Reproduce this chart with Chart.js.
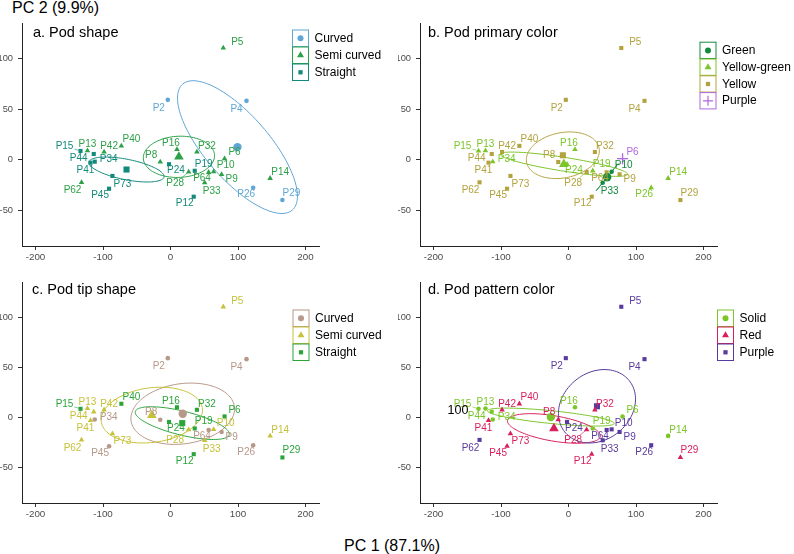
<!DOCTYPE html>
<html><head><meta charset="utf-8">
<script src="https://cdn.jsdelivr.net/npm/chart.js@4.4.1/dist/chart.umd.min.js"></script>
<style>
body{margin:0;background:#fff;width:794px;height:554px;overflow:hidden;position:relative;font-family:"Liberation Sans",Arial,sans-serif;}
canvas{position:absolute;}
.ax{position:absolute;font-size:16px;color:#000;white-space:nowrap;line-height:16px;}
</style></head><body>
<div class="ax" style="left:12px;top:0px">PC 2 (9.9%)</div>
<div class="ax" style="left:344px;top:538px">PC 1 (87.1%)</div>
<canvas id="ca"></canvas><canvas id="cb"></canvas><canvas id="cc"></canvas><canvas id="cd"></canvas>
<script>
// ---------------- DATA ----------------
const genotypes = ['P2','P4','P5','P6','P8','P9','P10','P12','P13','P14','P15','P16','P19','P24','P26','P28','P29','P32','P33','P34','P40','P41','P42','P44','P45','P62','P64','P73'];
const pc1 = [-4.0,112.6,78.2,80.1,-15.2,75.7,63.9,34.4,-123.0,147.6,-133.3,9.6,35.9,-2.2,122.5,26.9,165.8,39.1,50.6,-112.2,-72.8,-118.5,-98.4,-113.7,-91.0,-131.8,56.5,-86.0];
const pc2 = [59.1,58.1,110.3,1.0,-2.3,-14.5,-11.9,-36.6,8.9,-18.4,8.6,10.1,-11.0,-4.5,-27.7,-12.2,-39.9,7.6,-22.8,-2.0,13.6,-3.0,7.6,5.6,-28.7,-22.4,-12.5,-16.1];
const podShape = ['Curved','Curved','Semi curved','Semi curved','Semi curved','Semi curved','Semi curved','Straight','Semi curved','Semi curved','Straight','Semi curved','Straight','Straight','Curved','Semi curved','Curved','Semi curved','Semi curved','Straight','Semi curved','Straight','Semi curved','Straight','Straight','Semi curved','Semi curved','Straight'];
const podPrimaryColor = ['Yellow','Yellow','Yellow','Purple','Yellow','Yellow','Green','Yellow','Yellow-green','Yellow-green','Yellow-green','Yellow-green','Yellow-green','Yellow-green','Yellow-green','Yellow','Yellow','Yellow','Green','Yellow-green','Yellow','Yellow','Yellow','Yellow','Yellow','Yellow','Yellow','Yellow'];
const podTipShape = ['Curved','Curved','Semi curved','Straight','Curved','Curved','Semi curved','Straight','Semi curved','Semi curved','Straight','Straight','Straight','Straight','Curved','Semi curved','Straight','Straight','Semi curved','Curved','Straight','Semi curved','Semi curved','Semi curved','Curved','Semi curved','Curved','Semi curved'];
const podPatternColor = ['Purple','Purple','Purple','Solid','Red','Purple','Purple','Red','Solid','Solid','Solid','Solid','Solid','Purple','Purple','Red','Red','Red','Purple','Solid','Red','Red','Red','Solid','Red','Purple','Purple','Red'];
const shapeLevels = ['Curved','Semi curved','Straight'];
const primaryLevels = ['Green','Yellow-green','Yellow','Purple'];
const tipLevels = ['Curved','Semi curved','Straight'];
const patternLevels = ['Solid','Red','Purple'];
const xTicks = [-200,-100,0,100,200];
const yTicks = [-50,0,50,100];

// ---------------- LAYOUT / STYLE ----------------
const labelOffsets = {P2:[-9,8],P4:[-10,8],P5:[14,-6],P6:[10,-6],P8:[-9,-7],P9:[10,5],P10:[12,-6],P12:[-9,7],P13:[0,-6],P14:[10,-6],P15:[-16,-5],P16:[-6,-6],P19:[9,-7],P24:[7,6.5],P26:[-7,7],P28:[-13.5,11],P29:[9,-7],P32:[10,-6],P33:[7,9],P34:[14,-2],P40:[10,-7],P41:[-5,8],P42:[5,-6],P44:[-15,4],P45:[-9,7],P62:[-9,8],P64:[-6.6,6],P73:[10,8]};
const segmentLabels = ['P15','P28','P64'];
const FONT = '"Liberation Sans", Arial, sans-serif';

const panels = [
  {id:'ca', title:'a. Pod shape', groups:podShape, levels:shapeLevels,
   colors:['#5FA6D6','#2DA048','#12897A'], styles:['circle','triangle','rect'],
   canvas:{l:0,t:0,w:397,h:268}, area:{l:22,t:23,r:319,b:246},
   titlePos:[33,33], legend:{x:292,y:29.5,step:17}},
  {id:'cb', title:'b. Pod primary color', groups:podPrimaryColor, levels:primaryLevels,
   colors:['#138A3C','#7CC52A','#B3A33F','#B068DD'], styles:['circle','triangle','rect','cross'],
   canvas:{l:397,t:0,w:397,h:268}, area:{l:420,t:23,r:717,b:246},
   titlePos:[428,33], legend:{x:699.5,y:41.7,step:16.8}},
  {id:'cc', title:'c. Pod tip shape', groups:podTipShape, levels:tipLevels,
   colors:['#B89888','#C6C23A','#2CA43C'], styles:['circle','triangle','rect'],
   canvas:{l:0,t:268,w:397,h:260}, area:{l:22,t:282,r:319,b:503},
   titlePos:[32,289.5], legend:{x:292.5,y:309.5,step:17}},
  {id:'cd', title:'d. Pod pattern color', groups:podPatternColor, levels:patternLevels,
   colors:['#7CC62A','#D71F5B','#5A3A9C'], styles:['circle','triangle','rect'],
   canvas:{l:397,t:268,w:397,h:260}, area:{l:420,t:282,r:717,b:503},
   titlePos:[428,289.5], legend:{x:717,y:309.5,step:17},
   extraText:{text:'100', x:458, y:411, size:12.5}}
];

const smallR = {circle:2.3, triangle:3.2, rect:2.9, cross:3.5};
const bigR = {circle:4.2, triangle:5.6, rect:4.3, cross:5.5};

function idxOf(groups, lev){ const r=[]; groups.forEach((g,i)=>{ if(g===lev) r.push(i); }); return r; }
function meanOf(arr, idx){ return idx.reduce((s,i)=>s+arr[i],0)/idx.length; }

function drawSymbol(ctx, style, x, y, r, color){
  ctx.save(); ctx.fillStyle=color; ctx.strokeStyle=color; ctx.lineWidth=1.2;
  ctx.beginPath();
  if(style==='circle'){ ctx.arc(x,y,r,0,Math.PI*2); ctx.fill(); }
  else if(style==='triangle'){ ctx.moveTo(x,y-r); ctx.lineTo(x+r*0.866,y+r*0.5); ctx.lineTo(x-r*0.866,y+r*0.5); ctx.closePath(); ctx.fill(); }
  else if(style==='rect'){ const s=r*0.707; ctx.rect(x-s,y-s,2*s,2*s); ctx.fill(); }
  else if(style==='cross'){ ctx.moveTo(x-r,y); ctx.lineTo(x+r,y); ctx.moveTo(x,y-r); ctx.lineTo(x,y+r); ctx.stroke(); }
  ctx.restore();
}

function makePlugin(P){
  return {
    id:'panelDraw_'+P.id,
    beforeDatasetsDraw(chart){
      const ctx=chart.ctx, xs=chart.scales.x, ys=chart.scales.y;
      P.levels.forEach((lev,li)=>{
        const idx=idxOf(P.groups,lev); const n=idx.length; if(n<2) return;
        const mx=meanOf(pc1,idx), my=meanOf(pc2,idx);
        let sxx=0,syy=0,sxy=0;
        idx.forEach(i=>{const dx=pc1[i]-mx, dy=pc2[i]-my; sxx+=dx*dx; syy+=dy*dy; sxy+=dx*dy;});
        sxx/=(n-1); syy/=(n-1); sxy/=(n-1);
        const k=Math.sqrt(5.991)/Math.sqrt(n);
        const a=Math.sqrt(sxx), b=sxy/a, c=Math.sqrt(Math.max(syy-b*b,0));
        ctx.save(); ctx.strokeStyle=P.colors[li]; ctx.lineWidth=1; ctx.beginPath();
        for(let s=0;s<=120;s++){
          const t=s/120*Math.PI*2;
          const vx=mx+k*a*Math.cos(t), vy=my+k*(b*Math.cos(t)+c*Math.sin(t));
          const px=xs.getPixelForValue(vx), py=ys.getPixelForValue(vy);
          if(s===0) ctx.moveTo(px,py); else ctx.lineTo(px,py);
        }
        ctx.stroke(); ctx.restore();
      });
    },
    afterDatasetsDraw(chart){
      const ctx=chart.ctx, xs=chart.scales.x, ys=chart.scales.y;
      const ox=P.canvas.l, oy=P.canvas.t;
      ctx.save();
      ctx.font='10px '+FONT; ctx.textAlign='center'; ctx.textBaseline='middle';
      genotypes.forEach((g,i)=>{
        const li=P.levels.indexOf(P.groups[i]); const col=P.colors[li];
        const px=xs.getPixelForValue(pc1[i]), py=ys.getPixelForValue(pc2[i]);
        const off=labelOffsets[g]; const lx=px+off[0], ly=py+off[1];
        ctx.fillStyle=col; ctx.fillText(g,lx,ly);
        if(segmentLabels.includes(g)){
          const w=ctx.measureText(g).width/2+1, h=5;
          const dx=px-lx, dy=py-ly;
          let tt=Math.min(Math.abs(dx)>0?w/Math.abs(dx):9, Math.abs(dy)>0?h/Math.abs(dy):9);
          const sx=lx+dx*tt, sy=ly+dy*tt;
          const ex=px-dx*0.12, ey=py-dy*0.12;
          ctx.strokeStyle=col; ctx.lineWidth=0.6; ctx.beginPath(); ctx.moveTo(sx,sy); ctx.lineTo(ex,ey); ctx.stroke();
        }
      });
      ctx.restore();
      ctx.save(); ctx.font='14.5px '+FONT; ctx.fillStyle='#000'; ctx.textAlign='left'; ctx.textBaseline='middle';
      ctx.fillText(P.title, P.titlePos[0]-ox, P.titlePos[1]-oy); ctx.restore();
      const L=P.legend;
      P.levels.forEach((lev,li)=>{
        const kx=L.x-ox, ky=L.y-oy+li*L.step;
        ctx.save(); ctx.strokeStyle=P.colors[li]; ctx.lineWidth=1;
        ctx.strokeRect(kx+0.5, ky+0.5, 16, L.step-0.5); ctx.restore();
        drawSymbol(ctx, P.styles[li], kx+8.5, ky+L.step/2+0.3, P.styles[li]==='triangle'?4:(P.styles[li]==='cross'?5:3), P.colors[li]);
        ctx.save(); ctx.font='12px '+FONT; ctx.fillStyle='#000'; ctx.textAlign='left'; ctx.textBaseline='middle';
        ctx.fillText(lev, kx+22.5, ky+L.step/2+0.5); ctx.restore();
      });
      if(P.extraText){
        ctx.save(); ctx.font=P.extraText.size+'px '+FONT; ctx.fillStyle='#000'; ctx.textAlign='center'; ctx.textBaseline='middle';
        ctx.fillText(P.extraText.text, P.extraText.x-ox, P.extraText.y-oy); ctx.restore();
      }
    }
  };
}

panels.forEach(P=>{
  const cv=document.getElementById(P.id);
  cv.width=P.canvas.w; cv.height=P.canvas.h;
  cv.style.left=P.canvas.l+'px'; cv.style.top=P.canvas.t+'px';
  cv.style.width=P.canvas.w+'px'; cv.style.height=P.canvas.h+'px';
  const datasets=[];
  P.levels.forEach((lev,li)=>{
    const idx=idxOf(P.groups,lev);
    const st=P.styles[li];
    datasets.push({label:lev, data:idx.map(i=>({x:pc1[i],y:pc2[i]})),
      pointStyle:st, pointRadius:smallR[st], backgroundColor:P.colors[li], borderColor:P.colors[li],
      borderWidth: st==='cross'?1:0});
    datasets.push({label:lev+' centroid', data:[{x:meanOf(pc1,idx), y:meanOf(pc2,idx)}],
      pointStyle:st, pointRadius:bigR[st], backgroundColor:P.colors[li], borderColor:P.colors[li],
      borderWidth: st==='cross'?1.3:0});
  });
  const A=P.area, C=P.canvas;
  new Chart(cv.getContext('2d'),{
    type:'scatter',
    data:{datasets},
    options:{
      responsive:false, animation:false, devicePixelRatio:1,
      layout:{padding:{left:A.l-C.l-22, top:A.t-C.t, right:C.l+C.w-A.r, bottom:C.t+C.h-A.b-18}},
      plugins:{legend:{display:false}, tooltip:{enabled:false}, title:{display:false}},
      scales:{
        x:{type:'linear', min:-220, max:220,
           afterBuildTicks:s=>{s.ticks=xTicks.map(v=>({value:v}));},
           afterFit:s=>{s.height=18;},
           grid:{drawOnChartArea:false, drawTicks:true, tickLength:4, color:'#333', tickWidth:1},
           border:{display:true, color:'#222', width:1},
           ticks:{color:'#4d4d4d', font:{size:9.8, family:FONT}, padding:1, autoSkip:false, maxRotation:0}},
        y:{type:'linear', min:-85.3, max:135,
           afterBuildTicks:s=>{s.ticks=yTicks.map(v=>({value:v}));},
           afterFit:s=>{s.width=22;},
           grid:{drawOnChartArea:false, drawTicks:true, tickLength:4, color:'#333', tickWidth:1},
           border:{display:true, color:'#222', width:1},
           ticks:{color:'#4d4d4d', font:{size:9.3, family:FONT}, padding:5, autoSkip:false}}
      }
    },
    plugins:[makePlugin(P)]
  });
});
</script>
</body></html>
